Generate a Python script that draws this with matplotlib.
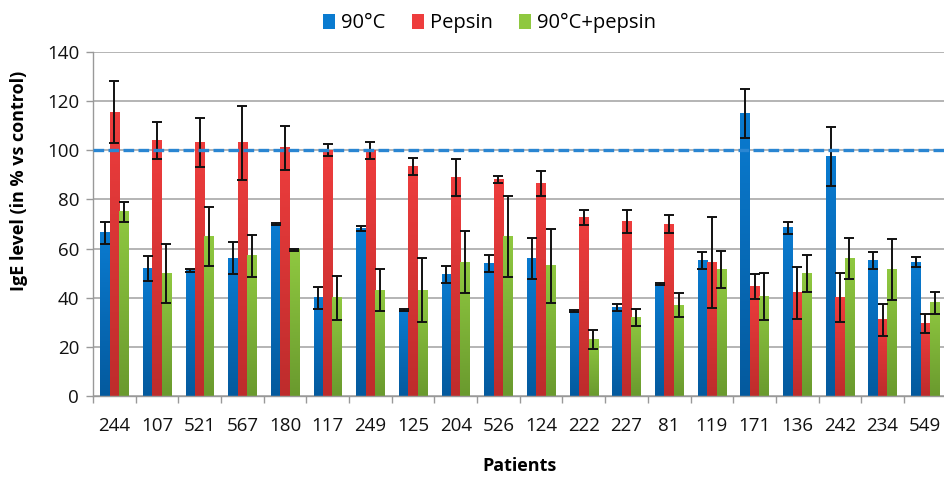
import numpy as np
import matplotlib
matplotlib.use('Agg')
import matplotlib.pyplot as plt
from matplotlib.colors import LinearSegmentedColormap

patients = ['244', '107', '521', '567', '180', '117', '249', '125', '204', '526',
            '124', '222', '227', '81', '119', '171', '136', '242', '234', '549']

heat = [66.5, 52, 51, 56, 70, 40, 68, 35, 49.5, 54,
        56, 34.5, 36, 45.5, 55, 115, 68.5, 97.5, 55, 54.5]
heat_err = [4.5, 5, 0.5, 6.5, 0.5, 4.5, 1, 0.5, 3.5, 3.5,
            8.5, 0.5, 1.5, 0.5, 3.5, 10, 2.5, 12, 3.5, 2]

pepsin = [115.5, 104, 103, 103, 101, 100, 100, 93.5, 89, 88,
          86.5, 72.5, 71, 70, 54.5, 44.5, 42, 40, 31, 29.5]
pepsin_err = [12.5, 7.5, 10, 15, 9, 2.5, 3.5, 3.5, 7.5, 1.5,
              5, 3, 4.5, 3.5, 18.5, 5, 10.5, 10, 6.5, 4]

both = [75, 50, 65, 57, 59.5, 40, 43, 43, 54.5, 65,
        53, 23, 32, 37, 51.5, 40.5, 50, 56, 51.5, 38]
both_err = [4, 12, 12, 8.5, 0.5, 9, 8.5, 13, 12.5, 16.5,
            15, 4, 3.5, 5, 7.5, 9.5, 7.5, 8.5, 12.5, 4.5]

series = [
    ('90°C', heat, heat_err, '#0A7BD0', '#045A9E'),
    ('Pepsin', pepsin, pepsin_err, '#EE3D3D', '#BE2C2C'),
    ('90°C+pepsin', both, both_err, '#8FC840', '#6A9A2E'),
]

plt.rcParams['font.family'] = ['Open Sans', 'DejaVu Sans']

fig = plt.figure(figsize=(9.45, 4.79), dpi=100)
ax = fig.add_axes([93 / 945, 83 / 479, 853.6 / 945, 344 / 479])

x = np.arange(len(patients))
w = 0.22
grad = np.linspace(0, 1, 64).reshape(-1, 1)

handles = []
for i, (name, vals, errs, ctop, cbot) in enumerate(series):
    pos = x + (i - 1) * w
    bars = ax.bar(pos, vals, w, color=ctop, zorder=2, label=name)
    handles.append(bars)
    cmap = LinearSegmentedColormap.from_list(name, [cbot, ctop])
    for b in bars:
        x0, x1 = b.get_x(), b.get_x() + b.get_width()
        h = b.get_height()
        ax.imshow(grad, cmap=cmap, extent=[x0, x1, 0, h], origin='lower',
                  aspect='auto', zorder=2.1, interpolation='bilinear')
    ax.errorbar(pos, vals, yerr=errs, fmt='none', ecolor='#111111',
                elinewidth=1.4, capsize=3.6, capthick=1.4, zorder=4)

ax.axhline(100, color='#2A86D2', lw=2.4, ls=(0, (3.2, 1.3)), zorder=5)

ax.set_xlim(-0.5, len(patients) - 0.5)
ax.set_ylim(0, 140)
ax.set_yticks(np.arange(0, 141, 20))
ax.set_xticks(x)
ax.set_xticklabels(patients)
ax.set_xticks(np.arange(-0.5, len(patients), 1), minor=True)
ax.tick_params(axis='x', which='major', length=0, pad=15, labelsize=13.5, colors='#111111')
ax.tick_params(axis='x', which='minor', length=5, width=1, color='#999999')
ax.tick_params(axis='y', length=5, width=1, color='#999999', pad=5, labelsize=13.5, labelcolor='#111111')

ax.yaxis.grid(True, color='#A8A8A8', lw=1.2, zorder=0)
ax.set_axisbelow(True)
for s in ['top', 'right']:
    ax.spines[s].set_visible(False)
for s in ['left', 'bottom']:
    ax.spines[s].set_color('#999999')
    ax.spines[s].set_linewidth(1)

ax.set_ylabel('IgE level (in % vs control)', fontsize=13, fontweight='bold')
ax.yaxis.set_label_coords(-0.076, 0.625)
ax.set_xlabel('Patients', fontsize=13, fontweight='bold')
ax.xaxis.set_label_coords(0.5, -0.178)

fig.legend(handles=handles, loc='upper center', bbox_to_anchor=(0.518, 1.01), ncol=3,
           frameon=False, fontsize=14.5, handlelength=0.6, handleheight=0.8,
           handletextpad=0.3, columnspacing=1.3)

fig.savefig('out.png', dpi=100)
